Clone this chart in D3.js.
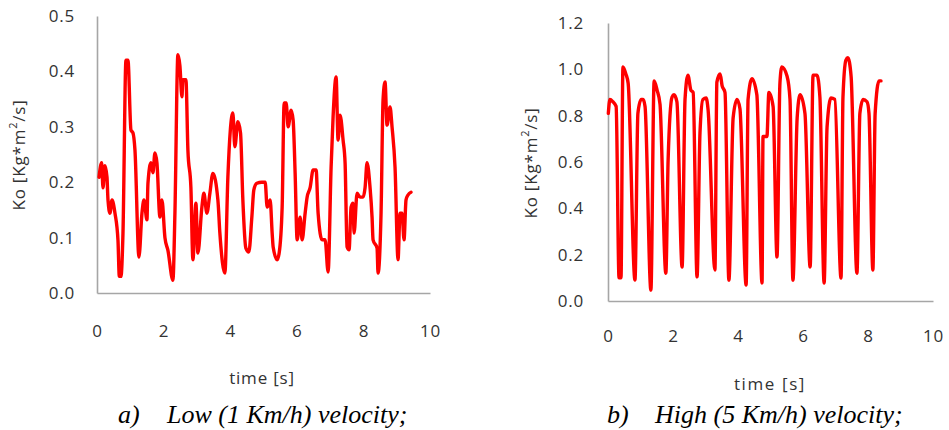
<!DOCTYPE html>
<html>
<head>
<meta charset="utf-8">
<script src="https://cdn.jsdelivr.net/npm/d3@7"></script>
<style>
  html, body { margin: 0; padding: 0; background: #fff; }
  svg { display: block; }
</style>
</head>
<body>
<svg id="chart" width="949" height="430"></svg>
<script>
// ---- Data ----
const lowTime = [0.06,0.14,0.18,0.24,0.30,0.33,0.39,0.45,0.54,0.63,0.67,0.72,0.78,0.87,0.93,1.02,1.08,1.14,1.26,1.35,1.41,1.50,1.53,1.62,1.68,1.74,1.80,1.89,1.95,2.04,2.13,2.28,2.34,2.43,2.49,2.55,2.58,2.67,2.73,2.82,2.88,2.97,3.03,3.15,3.21,3.30,3.39,3.48,3.63,3.69,3.84,3.93,4.08,4.14,4.23,4.31,4.38,4.47,4.56,4.65,4.71,4.80,4.95,5.05,5.11,5.20,5.26,5.29,5.41,5.47,5.56,5.62,5.68,5.74,5.83,5.89,5.95,6.01,6.10,6.16,6.25,6.31,6.40,6.49,6.58,6.64,6.76,6.85,6.94,7.03,7.09,7.18,7.24,7.30,7.39,7.45,7.51,7.57,7.63,7.69,7.72,7.81,7.90,7.99,8.05,8.11,8.20,8.26,8.29,8.41,8.44,8.53,8.59,8.65,8.71,8.80,8.86,8.95,9.04,9.10,9.16,9.22,9.28,9.34,9.43];
const lowKo = [0.209,0.235,0.19,0.23,0.209,0.168,0.144,0.168,0.144,0.095,0.03,0.03,0.108,0.42,0.42,0.294,0.289,0.258,0.065,0.144,0.168,0.132,0.198,0.235,0.217,0.253,0.235,0.137,0.168,0.10,0.077,0.023,0.144,0.43,0.41,0.354,0.385,0.385,0.258,0.19,0.06,0.162,0.072,0.155,0.18,0.144,0.18,0.216,0.168,0.108,0.036,0.209,0.325,0.264,0.309,0.289,0.168,0.081,0.074,0.137,0.186,0.198,0.2,0.2,0.155,0.168,0.108,0.083,0.06,0.072,0.155,0.343,0.343,0.30,0.33,0.312,0.216,0.096,0.137,0.096,0.144,0.173,0.19,0.222,0.222,0.144,0.096,0.096,0.038,0.227,0.318,0.39,0.276,0.321,0.276,0.235,0.083,0.078,0.155,0.162,0.108,0.18,0.173,0.173,0.19,0.235,0.19,0.137,0.096,0.081,0.036,0.144,0.348,0.381,0.303,0.336,0.30,0.227,0.06,0.144,0.144,0.096,0.168,0.177,0.182];

const highTime = [0.01,0.06,0.15,0.25,0.34,0.40,0.46,0.55,0.62,0.83,0.92,1.02,1.08,1.14,1.32,1.42,1.51,1.60,1.78,1.85,1.97,2.03,2.12,2.28,2.37,2.46,2.55,2.62,2.74,2.83,2.92,3.02,3.08,3.29,3.35,3.45,3.51,3.60,3.72,3.85,3.97,4.06,4.25,4.31,4.43,4.58,4.74,4.77,4.89,4.95,5.08,5.20,5.29,5.35,5.51,5.60,5.69,5.82,5.91,6.06,6.22,6.31,6.43,6.52,6.65,6.74,6.86,6.98,7.17,7.23,7.32,7.38,7.48,7.66,7.75,7.85,7.97,8.03,8.15,8.22,8.34,8.40];
const highKo = [0.81,0.87,0.86,0.84,0.10,0.10,1.01,0.98,0.94,0.09,0.81,0.87,0.87,0.84,0.047,0.95,0.91,0.85,0.12,0.61,0.88,0.89,0.86,0.147,0.87,0.975,0.91,0.90,0.104,0.725,0.87,0.876,0.825,0.134,0.945,0.98,0.93,0.90,0.09,0.79,0.87,0.83,0.069,0.87,0.96,0.89,0.078,0.71,0.71,0.90,0.84,0.19,0.94,1.01,0.97,0.87,0.09,0.79,0.89,0.81,0.147,0.975,0.975,0.88,0.078,0.75,0.876,0.87,0.099,0.88,1.04,1.05,0.97,0.12,0.81,0.87,0.86,0.81,0.134,0.81,0.95,0.95];

const xTicks = [0, 2, 4, 6, 8, 10];
const lowYTicks = [0.0, 0.1, 0.2, 0.3, 0.4, 0.5];
const highYTicks = [0.0, 0.2, 0.4, 0.6, 0.8, 1.0, 1.2];
const yLabelMain = "Ko [Kg*m";
const yLabelSup = "2";
const yLabelEnd = "/s]";
const xLabel = "time [s]";
const captions = [["a)", "Low (1 Km/h) velocity;"], ["b)", "High (5 Km/h) velocity;"]];

// ---- Drawing ----
const svg = d3.select("#chart");
const tickFont = "'Open Sans', Lato, sans-serif";
const textCol = "#333";

function panel(cfg) {
  const x = d3.scaleLinear().domain([0, 10]).range([cfg.x0, cfg.x1]);
  const y = d3.scaleLinear().domain([0, cfg.yMax]).range([cfg.y0, cfg.y1]);
  const g = svg.append("g");

  const xAxis = g.append("g").attr("transform", `translate(0,${cfg.y0})`)
    .call(d3.axisBottom(x).tickValues(xTicks).tickSize(0).tickSizeOuter(0).tickPadding(cfg.xPad).tickFormat(d3.format("d")));
  const yAxis = g.append("g").attr("transform", `translate(${cfg.x0},0)`)
    .call(d3.axisLeft(y).tickValues(cfg.yTicks).tickSize(0).tickSizeOuter(0).tickPadding(cfg.yPad).tickFormat(d3.format(".1f")));
  [xAxis, yAxis].forEach(a => {
    a.select(".domain").attr("stroke", "#a6a6a6").attr("stroke-width", 1.6);
    a.selectAll("text").attr("font-family", tickFont).attr("font-size", 17)
      .attr("letter-spacing", "0.8px").attr("fill", textCol);
  });

  const line = d3.line().x(d => x(d[0])).y(d => y(d[1])).curve(d3.curveMonotoneX);
  g.append("path")
    .datum(cfg.t.map((t, i) => [t, cfg.v[i]]))
    .attr("d", line)
    .attr("fill", "none")
    .attr("stroke", "#ff0000")
    .attr("stroke-width", 3.4)
    .attr("stroke-linejoin", "round")
    .attr("stroke-linecap", "round");

  const yl = g.append("text")
    .attr("transform", `translate(${cfg.yLabX},${cfg.yLabY}) rotate(-90)`)
    .attr("text-anchor", "middle").attr("dominant-baseline", "central")
    .attr("font-family", tickFont).attr("font-size", 17).attr("letter-spacing", "0.8px")
    .attr("fill", textCol);
  yl.append("tspan").text(yLabelMain);
  yl.append("tspan").attr("font-size", 11).attr("dy", -6).text(yLabelSup);
  yl.append("tspan").attr("dy", 6).text(yLabelEnd);

  g.append("text")
    .attr("x", cfg.xLabX).attr("y", cfg.xLabY)
    .attr("text-anchor", "middle").attr("dominant-baseline", "central")
    .attr("font-family", tickFont).attr("font-size", 17).attr("letter-spacing", cfg.xLabSp)
    .attr("fill", textCol)
    .text(xLabel);

  g.append("text")
    .attr("x", cfg.capX).attr("y", 423)
    .attr("font-family", "'Liberation Serif', 'Times New Roman', serif")
    .attr("font-style", "italic").attr("font-size", 26).attr("fill", "#000")
    .text(cfg.cap[0]);
  g.append("text")
    .attr("x", cfg.capX2).attr("y", 423)
    .attr("font-family", "'Liberation Serif', 'Times New Roman', serif")
    .attr("font-style", "italic").attr("font-size", 26).attr("fill", "#000")
    .text(cfg.cap[1]);
}

panel({
  t: lowTime, v: lowKo, yMax: 0.5, yTicks: lowYTicks,
  x0: 97, x1: 430, y0: 293, y1: 16,
  xPad: 32, yPad: 22,
  yLabX: 18, yLabY: 155, xLabX: 262, xLabY: 377, xLabSp: "0.8px",
  cap: captions[0], capX: 118, capX2: 167
});
panel({
  t: highTime, v: highKo, yMax: 1.2, yTicks: highYTicks,
  x0: 608, x1: 933, y0: 301, y1: 23,
  xPad: 29, yPad: 24,
  yLabX: 530, yLabY: 163, xLabX: 770, xLabY: 383, xLabSp: "1.6px",
  cap: captions[1], capX: 607, capX2: 655
});
</script>
</body>
</html>
